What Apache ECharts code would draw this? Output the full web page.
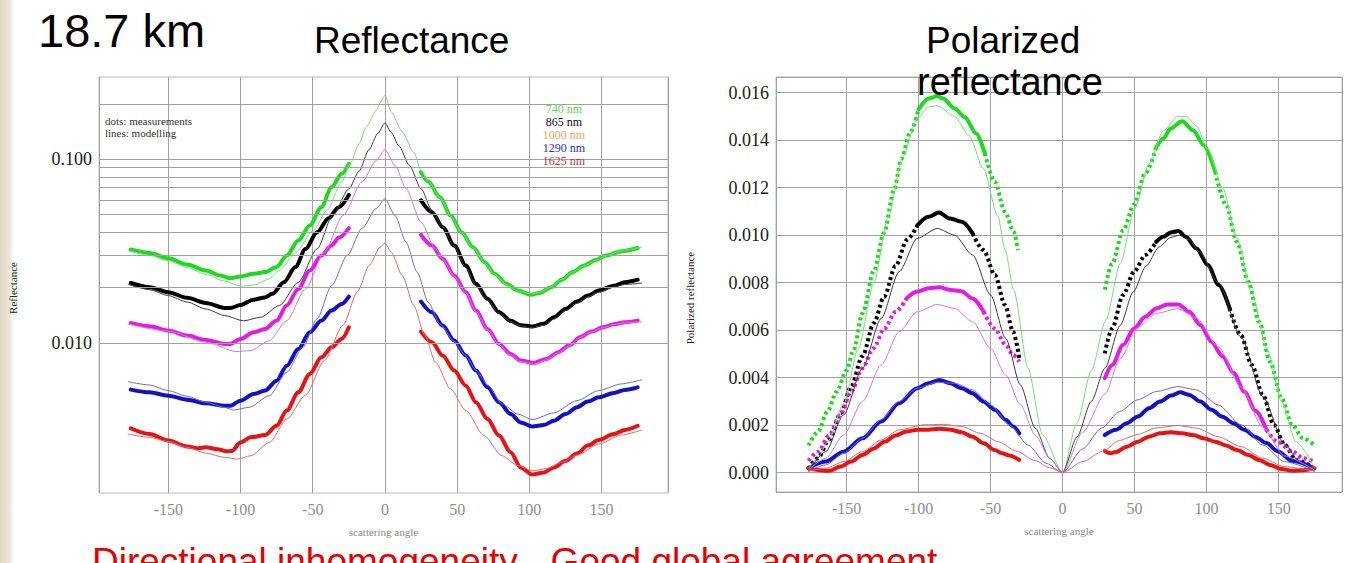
<!DOCTYPE html>
<html>
<head>
<meta charset="utf-8">
<script src="https://cdn.jsdelivr.net/npm/echarts@6/dist/echarts.min.js"></script>
<style>
  html, body { margin: 0; padding: 0; background: #ffffff; }
  #chart { width: 1347px; height: 563px; }
</style>
</head>
<body>
<div id="chart"></div>
<script>
// ---------- wavelengths ----------
const wavelengths = ['740 nm', '865 nm', '1000 nm', '1290 nm', '1625 nm'];

// ---------- tick labels ----------
const angleTicks = [-150, -100, -50, 0, 50, 100, 150];
const reflGridValues = [0.002, 0.003, 0.004, 0.005, 0.006, 0.007, 0.008, 0.009,
  0.01, 0.02, 0.03, 0.04, 0.05, 0.06, 0.07, 0.08, 0.09, 0.1, 0.2];

// ---------- reflectance (log scale): [scattering angle, value] ----------
const refl740MeasA = [[-176,0.0323],[-163,0.0309],[-150,0.0289],[-137,0.0267],[-124,0.0248],[-114,0.0233],[-107,0.0225],[-100,0.0230],[-91,0.0238],[-83,0.0243],[-75,0.0259],[-68,0.0299],[-60,0.0361],[-52,0.0436],[-44,0.0549],[-37,0.0705],[-30,0.0834],[-25,0.0945]];
const refl740MeasB = [[25,0.0852],[30,0.0757],[38,0.0622],[45.5,0.0494],[53,0.0401],[61,0.0332],[69,0.0275],[76,0.0238],[84,0.0210],[92,0.0193],[101,0.0183],[107,0.0187],[115,0.0201],[122.5,0.0221],[130,0.0243],[138,0.0264],[146,0.0283],[153,0.0299],[164,0.0316],[175,0.0329]];
const refl740Model = [[-178,0.0318],[-163,0.0300],[-150,0.0280],[-137,0.0258],[-124,0.0236],[-112,0.0218],[-100,0.0204],[-90,0.0207],[-81,0.0222],[-73,0.0248],[-62,0.0310],[-50,0.0405],[-40,0.0530],[-30,0.0750],[-24,0.0950],[-18,0.121],[-13,0.150],[-6,0.185],[-3,0.205],[0,0.223],[4.4,0.181],[12,0.141],[20,0.109],[25,0.0869],[30,0.0760],[38,0.0620],[45.5,0.0490],[53,0.0398],[61,0.0330],[69,0.0272],[76,0.0236],[84,0.0208],[92,0.0192],[101,0.0185],[107,0.0188],[115,0.0202],[122.5,0.0222],[130,0.0243],[138,0.0263],[146,0.0282],[153,0.0298],[164,0.0318],[178,0.0333]];

const refl865MeasA = [[-176,0.0212],[-163,0.0201],[-150,0.0189],[-137,0.0176],[-124,0.0165],[-111,0.0155],[-107,0.0155],[-100,0.0161],[-91,0.0172],[-83,0.0177],[-78,0.0185],[-70,0.0214],[-62,0.0259],[-55,0.0325],[-47,0.0401],[-39,0.0478],[-32,0.0549],[-25,0.0640]];
const refl865MeasB = [[25,0.0597],[32.6,0.0515],[40,0.0427],[48,0.0339],[56,0.0264],[63,0.0210],[71,0.0174],[79,0.0147],[87,0.0132],[94,0.0125],[102,0.0123],[110,0.0127],[117,0.0138],[125,0.0153],[133,0.0168],[140.5,0.0181],[148,0.0193],[158.5,0.0205],[166,0.0214],[175,0.0221]];
const refl865Model = [[-178,0.0209],[-163,0.0195],[-150,0.0181],[-137,0.0167],[-124,0.0153],[-111,0.0141],[-98,0.0132],[-86,0.0138],[-73,0.0160],[-60,0.0214],[-47,0.0325],[-36,0.0500],[-25,0.0690],[-18,0.0860],[-11,0.1130],[-5,0.1380],[0,0.158],[4.4,0.140],[9.5,0.1189],[17,0.0925],[25,0.0691],[32.6,0.0527],[40,0.0427],[48,0.0335],[56,0.0258],[63,0.0205],[71,0.0171],[79,0.0145],[87,0.0131],[94,0.0124],[102,0.0121],[110,0.0125],[117,0.0135],[125,0.0150],[133,0.0165],[140.5,0.0179],[148,0.0189],[158.5,0.0202],[166,0.0208],[178,0.0212]];

const refl1000MeasA = [[-176,0.01285],[-163,0.01233],[-150,0.01167],[-137,0.01096],[-124,0.01038],[-111,0.00988],[-107,0.00988],[-100,0.01051],[-91,0.01143],[-83,0.01192],[-75,0.01323],[-68,0.01598],[-60,0.01969],[-52,0.02479],[-44,0.02991],[-37,0.0339],[-32,0.03734],[-25,0.04217]];
const refl1000MeasB = [[25,0.0388],[32.6,0.0339],[40,0.0287],[48,0.02327],[56,0.01889],[63,0.0150],[71,0.01192],[79,0.00988],[87,0.00871],[94,0.00801],[103,0.00778],[112,0.00818],[120,0.0089],[128,0.00975],[135,0.01074],[143,0.01153],[151,0.01217],[158.5,0.01264],[166,0.01296],[175,0.01323]];
const refl1000Model = [[-178,0.0127],[-150,0.0116],[-124,0.01008],[-103,0.00897],[-93,0.00908],[-80,0.0103],[-68,0.01323],[-55,0.01969],[-42,0.0312],[-29,0.0494],[-16,0.0751],[-6,0.0986],[0,0.113],[7,0.0925],[14.6,0.0691],[25,0.0455],[35,0.0325],[40,0.0285],[48,0.0230],[56,0.0187],[63,0.0148],[71,0.0118],[79,0.0098],[87,0.0086],[94,0.0079],[103,0.00767],[112,0.0081],[120,0.0088],[128,0.0097],[135,0.0107],[143,0.0115],[151,0.0121],[158.5,0.0126],[166,0.0129],[178,0.01305]];

const refl1290MeasA = [[-176,0.00557],[-163,0.00538],[-150,0.00516],[-137,0.00491],[-124,0.00469],[-111,0.00455],[-107,0.00455],[-100,0.00485],[-91,0.00527],[-83,0.0055],[-75,0.00623],[-68,0.00752],[-60,0.00927],[-52,0.01143],[-44,0.01323],[-37,0.0150],[-30,0.01631],[-25,0.01789]];
const refl1290MeasB = [[25,0.0168],[32.6,0.01469],[40,0.01243],[48,0.0103],[56,0.00853],[63,0.00707],[71,0.00573],[79,0.00475],[87,0.0041],[94,0.00369],[102,0.00351],[110,0.00357],[117,0.00377],[125,0.0041],[133,0.00446],[140.5,0.00479],[148,0.00506],[158.5,0.00534],[166,0.00555],[175,0.00573]];
const refl1290Model = [[-178,0.00615],[-163,0.0059],[-150,0.0055],[-137,0.00512],[-124,0.00475],[-111,0.00446],[-105,0.00431],[-94,0.00446],[-80,0.00516],[-68,0.00692],[-57,0.00946],[-47,0.0135],[-37,0.0205],[-26,0.0300],[-16,0.0420],[-6,0.0540],[0,0.061],[7,0.0494],[14.6,0.0354],[22.3,0.02427],[30,0.01666],[38,0.01269],[48,0.0102],[56,0.0085],[63,0.0071],[71,0.0059],[81,0.00466],[92,0.0041],[102,0.00382],[117,0.00416],[133,0.00485],[148,0.0055],[163.6,0.00598],[178,0.00631]];

const refl1625MeasA = [[-176,0.00343],[-163,0.00319],[-150,0.00294],[-137,0.00273],[-129,0.00267],[-124,0.0027],[-116,0.00264],[-110,0.00257],[-106,0.00258],[-100,0.00287],[-93,0.00306],[-83,0.00315],[-75,0.00354],[-68,0.00428],[-60,0.00538],[-52,0.00678],[-44,0.00835],[-37,0.00947],[-30,0.01051],[-25,0.01217]];
const refl1625MeasB = [[25,0.01153],[32.6,0.01008],[40,0.00853],[48,0.00707],[56,0.00585],[63,0.00475],[71,0.00385],[79,0.00313],[87,0.00254],[94,0.0021],[102,0.00192],[110,0.00197],[117,0.0021],[125,0.00228],[133,0.0025],[140.5,0.00276],[148,0.00296],[158.5,0.00319],[166,0.00336],[175,0.00354]];
const refl1625Model = [[-178,0.00319],[-163,0.00306],[-150,0.0029],[-137,0.0027],[-124,0.00251],[-111,0.00238],[-102,0.00233],[-93,0.00243],[-80,0.00287],[-68,0.00385],[-55,0.0052],[-42,0.0080],[-29,0.0125],[-19,0.0190],[-11,0.02638],[-3.3,0.0332],[0,0.035],[4.4,0.0312],[12,0.02327],[20,0.01598],[27.5,0.0110],[35,0.00785],[45.5,0.00561],[56,0.00428],[68.6,0.00313],[81,0.00243],[92,0.00215],[102,0.00201],[112,0.00207],[122.5,0.00224],[133,0.00245],[148,0.00281],[163.6,0.00315],[178,0.00336]];

// ---------- polarized reflectance (linear): [scattering angle, value] ----------
const pol740MeasA = [[-176.5,0.00114],[-170,0.0017],[-163,0.0026],[-157,0.0034],[-150,0.0043],[-145,0.0052],[-139,0.0067],[-131,0.0085],[-124,0.0101],[-117,0.0119],[-112,0.0132],[-106,0.0143],[-100,0.0153],[-93,0.01575],[-87,0.01586],[-83,0.01575],[-75,0.01533],[-68,0.01498],[-60,0.01428],[-54,0.01344],[-47,0.01224],[-40,0.01098],[-34,0.01014],[-31,0.00937]];
const pol740MeasB = [[29.3,0.0077],[34.4,0.0088],[42,0.0102],[49.7,0.0113],[57.4,0.0126],[65,0.0137],[70,0.01407],[75,0.01449],[83,0.01480],[90.6,0.01442],[98,0.01379],[106,0.01266],[113.5,0.01126],[121,0.00972],[129,0.00804],[136.5,0.00635],[144,0.00467],[152,0.00313],[159.4,0.00201],[167,0.00144],[174.7,0.00116]];
const pol740Model = [[-176,0.0002],[-170,0.0006],[-163,0.0013],[-152,0.0029],[-142,0.0052],[-131,0.0080],[-121,0.0108],[-111,0.0133],[-101,0.0149],[-93,0.0154],[-87,0.01545],[-75,0.0150],[-65,0.0142],[-55,0.0128],[-45,0.0108],[-40,0.0094],[-34,0.0077],[-24,0.0044],[-14,0.0016],[0,0],[10,0.0021],[20,0.0043],[30,0.0064],[40,0.0088],[50,0.0111],[60,0.0130],[70,0.0144],[80,0.0150],[86,0.0150],[93,0.0146],[101,0.0136],[111,0.0120],[121,0.0099],[131,0.0076],[142,0.0052],[152,0.0030],[162,0.0013],[175,0.0002]];

const pol865MeasA = [[-176.5,0.00015],[-170,0.0006],[-162,0.0014],[-154,0.0025],[-147,0.0036],[-139,0.0049],[-131,0.0063],[-124,0.0074],[-116,0.0087],[-108,0.0098],[-101,0.0104],[-93,0.01077],[-86,0.01095],[-78,0.0107],[-70,0.01056],[-62.5,0.01007],[-55,0.00937],[-47,0.00832],[-40,0.00705],[-34.4,0.00593],[-30,0.0048]];
const pol865MeasB = [[29.3,0.00502],[34.4,0.00607],[42,0.00748],[49.7,0.00846],[57.4,0.00916],[65,0.00972],[70,0.00993],[75,0.01011],[80.4,0.01017],[85.5,0.00993],[93,0.00944],[100.8,0.00874],[108.4,0.0079],[116,0.00691],[123.7,0.00579],[131.4,0.00453],[139,0.00327],[146.7,0.00201],[154.3,0.00116],[162,0.00053],[174.7,0.00018]];
const pol865Model = [[-176.5,0.00007],[-164.5,0.00088],[-152,0.00243],[-139,0.00439],[-126,0.00649],[-113.5,0.00846],[-101,0.00986],[-87,0.01028],[-75,0.0100],[-62.5,0.00916],[-50,0.00748],[-39.5,0.00565],[-29.3,0.00369],[-19,0.00187],[-9,0.0006],[0,0],[10,0.0015],[20,0.0030],[29.4,0.0044],[40,0.0062],[49,0.0076],[58,0.0087],[67,0.0095],[75,0.0099],[81,0.0100],[88,0.0098],[95,0.0093],[108,0.0080],[124,0.0057],[139,0.0032],[154,0.0012],[165,0.0004],[175,0.0001]];

const pol1000MeasA = [[-176.5,0.0005],[-169.6,0.00088],[-162,0.00158],[-154.3,0.00243],[-146.7,0.00341],[-139,0.00439],[-131.4,0.00523],[-123.7,0.00607],[-116,0.00677],[-108.4,0.00733],[-100.8,0.00762],[-93,0.00776],[-85.5,0.0078],[-77.8,0.00769],[-70.2,0.00764],[-62.5,0.00733],[-54.8,0.00677],[-47.2,0.00607],[-39.5,0.00537],[-34.4,0.00495],[-30.1,0.00467]];
const pol1000MeasB = [[29.3,0.00397],[34.4,0.00453],[42,0.00537],[49.7,0.00607],[57.4,0.00656],[65,0.00691],[72.7,0.00708],[80.4,0.00708],[88,0.00677],[95.7,0.00621],[103.3,0.00551],[111,0.0049],[118.6,0.0042],[126.3,0.0034],[133.9,0.0026],[141.6,0.0018],[149,0.0013],[159.4,0.0009],[167,0.0006],[174.7,0.00046]];
const pol1000Model = [[-176.5,0.00011],[-164.5,0.0006],[-152,0.00158],[-139,0.00299],[-126,0.00453],[-113.5,0.00593],[-101,0.00677],[-87,0.00708],[-75,0.00691],[-62.5,0.00635],[-50,0.00523],[-39.5,0.00411],[-29.3,0.00285],[-19,0.00158],[-9,0.0006],[0,0],[14,0.0017],[29.4,0.0033],[40,0.0048],[52,0.0061],[65,0.0067],[80,0.0069],[93,0.0065],[108,0.0053],[124,0.0036],[139,0.0019],[154,0.0007],[175,0.0001]];

const pol1290MeasA = [[-176.5,0.00018],[-164.5,0.00046],[-152,0.00088],[-139,0.00144],[-126,0.00215],[-113.5,0.00292],[-101,0.00355],[-93,0.00376],[-85.5,0.0039],[-78,0.00376],[-70,0.00355],[-62.5,0.00334],[-55,0.00299],[-47,0.00264],[-39.5,0.00222],[-34.4,0.00194],[-30.1,0.00165]];
const pol1290MeasB = [[29.3,0.00158],[37,0.0018],[44.6,0.00208],[52.3,0.00236],[60,0.00271],[67.6,0.00299],[75.3,0.00324],[81.6,0.00338],[88,0.00327],[95.7,0.00299],[103.3,0.00264],[111,0.00235],[118.6,0.00208],[126.3,0.0018],[133.9,0.0015],[141.6,0.00124],[149.2,0.0009],[159.4,0.0005],[174.7,0.00018]];
const pol1290Model = [[-176.5,0.00005],[-164.5,0.00032],[-152,0.00081],[-139,0.00144],[-126,0.00222],[-113.5,0.00299],[-101,0.00355],[-87,0.0038],[-75,0.00376],[-62.5,0.00348],[-50,0.00285],[-37,0.00201],[-24,0.00116],[-11.5,0.00039],[0,0],[14,0.001],[27,0.00187],[39.5,0.00257],[52,0.00306],[65,0.00341],[80,0.00362],[93,0.00348],[108,0.00285],[124,0.00201],[139,0.00116],[154,0.00046],[175,0.00005]];

const pol1625MeasA = [[-176.5,0.00018],[-169.6,0.00011],[-162,0.00007],[-154.3,0.00025],[-146.7,0.00046],[-139,0.00074],[-131.4,0.001],[-123.7,0.0013],[-116,0.00156],[-108.4,0.00173],[-100.8,0.0018],[-93,0.0018],[-85.5,0.00184],[-77.8,0.0018],[-70.2,0.0017],[-62.5,0.00151],[-54.8,0.00123],[-47.2,0.00095],[-42,0.00081],[-37,0.00072],[-30.1,0.00053]];
const pol1625MeasB = [[29.3,0.00091],[33.2,0.00081],[37,0.00086],[44.6,0.00109],[52.3,0.0013],[60,0.00151],[67.6,0.00165],[75.3,0.0017],[83,0.00165],[90.6,0.00158],[98,0.00144],[106,0.0013],[113.5,0.00114],[121,0.00095],[129,0.00074],[136.5,0.00053],[144,0.00032],[152,0.00015],[159.4,0.00007],[167,0.0001],[174.7,0.00018]];
const pol1625Model = [[-176.5,0.00005],[-164.5,0.00018],[-152,0.00046],[-139,0.00088],[-126,0.00137],[-113.5,0.0018],[-96,0.00201],[-83,0.00203],[-70,0.00194],[-57,0.00165],[-44.6,0.0013],[-32,0.0009],[-19,0.0005],[-9,0.0002],[0,0],[14,0.00046],[28,0.0009],[39.5,0.00135],[52,0.0016],[65,0.00188],[80,0.00198],[93,0.00187],[108,0.00151],[124,0.00109],[139,0.0006],[154,0.00025],[175,0.00005]];

// ---------- colours ----------
const measColors  = ['#20d820', '#000000', '#e21ce2', '#1212c4', '#e41414'];
const modelColors = ['#78de78', '#3c3c3c', '#d67ad6', '#6a6ad6', '#e06a6a'];
const labelColors = ['#5ed65e', '#111111', '#f0a468', '#2e2ec0', '#c83232'];

const reflSets = [
  [refl740MeasA, refl740MeasB, refl740Model],
  [refl865MeasA, refl865MeasB, refl865Model],
  [refl1000MeasA, refl1000MeasB, refl1000Model],
  [refl1290MeasA, refl1290MeasB, refl1290Model],
  [refl1625MeasA, refl1625MeasB, refl1625Model]
];
const polSets = [
  [pol740MeasA, pol740MeasB, pol740Model],
  [pol865MeasA, pol865MeasB, pol865Model],
  [pol1000MeasA, pol1000MeasB, pol1000Model],
  [pol1290MeasA, pol1290MeasB, pol1290Model],
  [pol1625MeasA, pol1625MeasB, pol1625Model]
];

// Where the polarized measurements are sparse enough that the dots separate:
// angles at which the drawing switches between dotted and continuous.
const polDotLook = [
  [{ cuts: [-100, -54], first: 'dot' }, { cuts: [65, 106], first: 'dot' }],
  [{ cuts: [-101, -62.5], first: 'dot' }, { cuts: [65, 116], first: 'dot' }],
  [{ cuts: [-108.4, -54.8], first: 'dot' }, { cuts: [141.6], first: 'solid' }],
  null,
  null
];

const GRID = '#a2a2a2';
const SERIF = '"Liberation Serif", "DejaVu Serif", serif';
const SANS = '"Liberation Sans", Arial, sans-serif';

function measSeries(data, i, panel, look) {
  return {
    type: 'line', xAxisIndex: panel, yAxisIndex: panel, data: data,
    name: wavelengths[i], showSymbol: false, smooth: 0.3, smoothMonotone: 'x',
    lineStyle: look === 'dot'
      ? { color: measColors[i], width: 4, type: [3, 3], cap: 'butt' }
      : { color: measColors[i], width: 4, cap: 'round', join: 'round' },
    z: 3, silent: true
  };
}
function modelSeries(data, i, panel) {
  return {
    type: 'line', xAxisIndex: panel, yAxisIndex: panel, data: data,
    name: wavelengths[i] + ' model', showSymbol: false, smooth: 0.25, smoothMonotone: 'x',
    lineStyle: { color: modelColors[i], width: 1 },
    z: 4, silent: true
  };
}
// split a measurement run at given angles; neighbouring pieces share a point
function splitRun(data, look) {
  if (!look) return [{ data: data, look: 'solid' }];
  const pieces = [];
  let style = look.first, start = 0;
  look.cuts.forEach(c => {
    let k = data.findIndex(p => p[0] >= c);
    if (k < 0) k = data.length - 1;
    if (k > start) {
      pieces.push({ data: data.slice(start, k + 1), look: style });
      start = k;
    }
    style = style === 'dot' ? 'solid' : 'dot';
  });
  pieces.push({ data: data.slice(start), look: style });
  return pieces;
}

const series = [];
// horizontal grid of the log panel, placed through the log axis
series.push({
  type: 'line', xAxisIndex: 0, yAxisIndex: 0, data: [[0, 0.01]],
  showSymbol: false, lineStyle: { opacity: 0 }, silent: true, z: 1,
  markLine: {
    silent: true, symbol: 'none', animation: false,
    label: { show: false },
    lineStyle: { color: GRID, width: 1, type: 'solid' },
    data: reflGridValues.map(v => ({ yAxis: v }))
  }
});
reflSets.forEach((s, i) => {
  series.push(measSeries(s[0], i, 0, 'solid'), measSeries(s[1], i, 0, 'solid'), modelSeries(s[2], i, 0));
});
polSets.forEach((s, i) => {
  const look = polDotLook[i];
  splitRun(s[0], look && look[0]).forEach(p => series.push(measSeries(p.data, i, 1, p.look)));
  splitRun(s[1], look && look[1]).forEach(p => series.push(measSeries(p.data, i, 1, p.look)));
  series.push(modelSeries(s[2], i, 1));
});

function angleAxis(gridIndex, min, max) {
  return {
    type: 'value', gridIndex: gridIndex, min: min, max: max,
    splitNumber: 8, minInterval: 50, maxInterval: 50,
    axisLine: { show: false }, axisTick: { show: false },
    splitLine: { show: true, lineStyle: { color: GRID, width: 1 } },
    axisLabel: {
      show: true, showMinLabel: false, showMaxLabel: false, margin: 8,
      fontFamily: SERIF, fontSize: 16, color: '#8e8e8e',
      formatter: v => (angleTicks.indexOf(v) >= 0 ? String(v) : '')
    },
    name: 'scattering angle', nameLocation: 'middle', nameGap: 33,
    nameTextStyle: { fontFamily: SERIF, fontSize: 11, color: '#8a8a8a' }
  };
}

const option = {
  animation: false,
  backgroundColor: '#ffffff',
  grid: [
    { left: 99, top: 77, width: 569, height: 416, show: true, borderColor: '#b8b8b8', borderWidth: 1, backgroundColor: 'transparent' },
    { left: 776, top: 77, width: 566, height: 415, show: true, borderColor: '#b8b8b8', borderWidth: 1, backgroundColor: 'transparent' }
  ],
  xAxis: [angleAxis(0, -198, 196), angleAxis(1, -199, 194)],
  yAxis: [
    {
      type: 'log', logBase: 10, gridIndex: 0, min: 0.001523, max: 0.2807,
      axisLine: { show: false },
      axisTick: { show: true, length: 5, lineStyle: { color: '#999' } },
      splitLine: { show: false },
      axisLabel: {
        showMinLabel: false, showMaxLabel: false, margin: 7,
        fontFamily: SERIF, fontSize: 18, color: '#1a1a1a',
        formatter: v => {
          const l = Math.log10(v);
          return Math.abs(l - Math.round(l)) < 1e-6 ? v.toFixed(3) : '';
        }
      }
    },
    {
      type: 'value', gridIndex: 1, min: -0.00082, max: 0.01666,
      splitNumber: 8, minInterval: 0.002, maxInterval: 0.002,
      axisLine: { show: false },
      axisTick: { show: true, length: 5, lineStyle: { color: '#999' } },
      splitLine: { show: true, lineStyle: { color: GRID, width: 1 } },
      axisLabel: {
        showMinLabel: false, showMaxLabel: false, margin: 7,
        fontFamily: SERIF, fontSize: 18, color: '#1a1a1a',
        formatter: v => v.toFixed(3)
      }
    }
  ],
  graphic: [
    // slide edge at the far left
    { type: 'rect', left: 0, top: 0, z: -10, silent: true,
      shape: { width: 16, height: 563 },
      style: { fill: { type: 'linear', x: 0, y: 0, x2: 1, y2: 0,
        colorStops: [{ offset: 0, color: '#ddd6c4' }, { offset: 0.6, color: '#ebe6da' }, { offset: 1, color: 'rgba(255,255,255,0)' }] } } },
    // headings
    { type: 'text', x: 38, y: 30, silent: true,
      style: { text: '18.7 km', font: '47px ' + SANS, fill: '#000', verticalAlign: 'middle' } },
    { type: 'text', x: 314, y: 40, silent: true,
      style: { text: 'Reflectance', font: '37px ' + SANS, fill: '#000', verticalAlign: 'middle' } },
    { type: 'text', x: 926, y: 40, silent: true, z: 20,
      style: { text: 'Polarized', font: '37px ' + SANS, fill: '#000', verticalAlign: 'middle' } },
    { type: 'text', x: 917, y: 82, silent: true, z: 20,
      style: { text: 'reflectance', font: '38px ' + SANS, fill: '#000', verticalAlign: 'middle' } },
    // axis names
    { type: 'text', x: 13, y: 288, rotation: Math.PI / 2, silent: true,
      style: { text: 'Reflectance', font: '11px ' + SERIF, fill: '#222', textAlign: 'center', verticalAlign: 'middle' } },
    { type: 'text', x: 690, y: 298, rotation: Math.PI / 2, silent: true,
      style: { text: 'Polarized reflectance', font: '11px ' + SERIF, fill: '#222', textAlign: 'center', verticalAlign: 'middle' } },
    // notes inside the reflectance panel
    { type: 'text', x: 105, y: 121, silent: true, z: 20,
      style: { text: 'dots: measurements', font: '11px ' + SERIF, fill: '#333', verticalAlign: 'middle' } },
    { type: 'text', x: 105, y: 133, silent: true, z: 20,
      style: { text: 'lines: modelling', font: '11px ' + SERIF, fill: '#333', verticalAlign: 'middle' } }
  ].concat(wavelengths.map((w, i) => ({
    type: 'text', x: 564, y: 109 + i * 13, silent: true, z: 20,
    style: { text: w, font: '12px ' + SERIF, fill: labelColors[i], textAlign: 'center', verticalAlign: 'middle' }
  }))).concat([
    { type: 'text', x: 92, y: 561, silent: true, z: 20,
      style: { text: 'Directional inhomogeneity - Good global agreement', font: '37px ' + SANS, fill: '#e00000', verticalAlign: 'middle' } }
  ]),
  series: series
};

const chart = echarts.init(document.getElementById('chart'), null, { renderer: 'svg', width: 1347, height: 563 });
chart.setOption(option);
</script>
</body>
</html>
